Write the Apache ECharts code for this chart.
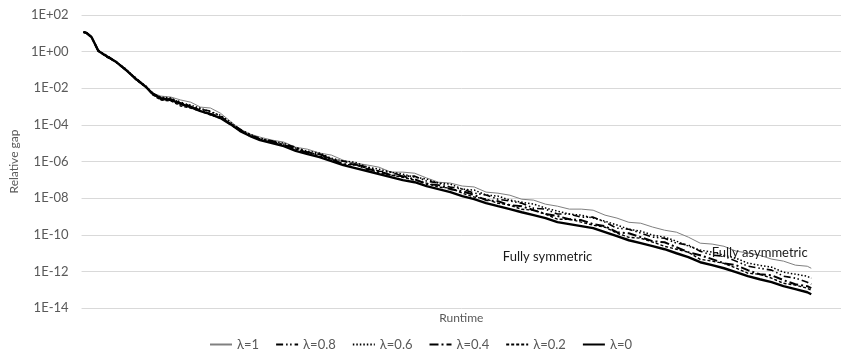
<!DOCTYPE html>
<html>
<head>
<meta charset="utf-8">
<script src="https://cdn.jsdelivr.net/npm/echarts@6/dist/echarts.min.js"></script>
<style>html,body{margin:0;padding:0;background:#fff}#c{width:841px;height:362px}</style>
</head>
<body>
<div id="c"></div>
<script>
// Runtime (arbitrary units)
const runtime = [2,5,10,13,17,25,35,45,55,65,72,80,90,100,110,120,130,140,150,160,170,180,192,204,216,228,240,252,264,276,288,300,312,324,336,348,360,372,384,396,408,420,432,444,456,468,480,492,504,516,528,540,552,564,576,588,600,612,624,636,648,660,672,684,696,708,720,732,736];

// log10(relative gap) per series
const lam1 = [1.07,1.02,0.80,0.52,0.03,-0.29,-0.52,-1.01,-1.50,-1.93,-2.27,-2.43,-2.48,-2.64,-2.76,-3.03,-3.08,-3.36,-3.80,-4.23,-4.50,-4.67,-4.83,-4.94,-5.22,-5.33,-5.54,-5.65,-5.93,-6.09,-6.19,-6.31,-6.58,-6.58,-6.64,-6.90,-7.13,-7.18,-7.34,-7.39,-7.67,-7.73,-7.84,-8.06,-8.11,-8.33,-8.44,-8.60,-8.60,-8.66,-8.93,-9.09,-9.32,-9.37,-9.58,-9.75,-9.86,-10.13,-10.46,-10.51,-10.63,-10.89,-11.00,-11.12,-11.33,-11.44,-11.66,-11.72,-11.83];
const lam08 = [1.07,1.02,0.80,0.47,0.03,-0.19,-0.57,-1.01,-1.45,-1.93,-2.27,-2.54,-2.59,-2.75,-2.98,-3.14,-3.25,-3.52,-3.91,-4.23,-4.56,-4.72,-4.94,-5.05,-5.22,-5.49,-5.60,-5.87,-5.98,-6.15,-6.30,-6.53,-6.58,-6.80,-6.80,-7.07,-7.18,-7.40,-7.51,-7.72,-7.83,-8.06,-8.16,-8.28,-8.55,-8.60,-8.87,-8.87,-9.04,-9.04,-9.31,-9.64,-9.70,-9.91,-10.13,-10.19,-10.46,-10.56,-10.90,-11.11,-11.17,-11.44,-11.71,-11.83,-11.93,-12.26,-12.37,-12.59,-12.70];
const lam06 = [1.07,1.02,0.80,0.47,0.08,-0.24,-0.57,-0.96,-1.50,-1.88,-2.32,-2.49,-2.53,-2.81,-2.92,-3.09,-3.30,-3.47,-3.85,-4.29,-4.50,-4.78,-4.88,-5.00,-5.27,-5.44,-5.54,-5.82,-5.98,-6.04,-6.30,-6.42,-6.58,-6.69,-6.86,-6.96,-7.18,-7.23,-7.51,-7.56,-7.83,-7.89,-8.11,-8.22,-8.33,-8.54,-8.71,-8.87,-8.93,-9.09,-9.26,-9.47,-9.70,-9.80,-10.02,-10.13,-10.35,-10.62,-10.84,-10.95,-11.12,-11.28,-11.55,-11.67,-11.77,-12.05,-12.15,-12.27,-12.38];
const lam04 = [1.07,1.02,0.80,0.47,0.03,-0.24,-0.57,-1.01,-1.50,-1.93,-2.32,-2.59,-2.64,-2.81,-3.03,-3.20,-3.41,-3.58,-3.96,-4.29,-4.61,-4.78,-4.88,-5.11,-5.27,-5.55,-5.60,-5.87,-6.15,-6.15,-6.41,-6.53,-6.74,-6.80,-6.97,-7.23,-7.29,-7.51,-7.62,-7.83,-8.11,-8.17,-8.38,-8.44,-8.66,-8.87,-8.98,-9.15,-9.20,-9.42,-9.53,-9.86,-9.92,-10.13,-10.35,-10.41,-10.68,-10.95,-11.12,-11.33,-11.56,-11.66,-11.93,-12.16,-12.21,-12.48,-12.70,-12.81,-12.92];
const lam02 = [1.07,1.02,0.80,0.47,0.03,-0.29,-0.57,-1.01,-1.55,-1.93,-2.37,-2.65,-2.69,-2.97,-3.08,-3.25,-3.46,-3.63,-3.91,-4.34,-4.56,-4.83,-4.94,-5.16,-5.33,-5.49,-5.71,-5.87,-6.15,-6.20,-6.36,-6.64,-6.74,-6.86,-7.02,-7.18,-7.40,-7.45,-7.73,-7.94,-8.05,-8.28,-8.38,-8.61,-8.66,-8.87,-9.15,-9.15,-9.31,-9.48,-9.59,-9.91,-10.14,-10.19,-10.40,-10.63,-10.79,-10.95,-11.34,-11.44,-11.56,-11.82,-12.10,-12.16,-12.37,-12.65,-12.75,-12.92,-13.03];
const lam0 = [1.07,1.02,0.80,0.47,0.03,-0.24,-0.57,-1.01,-1.50,-1.93,-2.32,-2.54,-2.64,-2.86,-3.03,-3.25,-3.41,-3.63,-3.96,-4.34,-4.61,-4.83,-4.99,-5.16,-5.42,-5.60,-5.76,-5.98,-6.20,-6.36,-6.52,-6.69,-6.85,-7.02,-7.13,-7.34,-7.51,-7.67,-7.89,-8.05,-8.27,-8.44,-8.60,-8.77,-8.93,-9.09,-9.31,-9.42,-9.53,-9.64,-9.86,-10.08,-10.30,-10.46,-10.62,-10.79,-11.01,-11.22,-11.50,-11.66,-11.83,-12.04,-12.26,-12.43,-12.59,-12.81,-12.97,-13.14,-13.25];

const seriesNames = ['λ=1','λ=0.8','λ=0.6','λ=0.4','λ=0.2','λ=0'];
const yTicks = ['1E-14','1E-12','1E-10','1E-08','1E-06','1E-04','1E-02','1E+00','1E+02'];
const annotations = [
  {text:'Fully symmetric', x:470, y:-11.22},
  {text:'Fully asymmetric', x:684, y:-11.0}
];

const values = [lam1, lam08, lam06, lam04, lam02, lam0];
const styles = [
  {color:'#808080', width:1, type:'solid'},
  {color:'#000', width:1.6, type:[7,3,1.5,2.5,1.5,3]},
  {color:'#000', width:1.5, type:[1.5,2]},
  {color:'#000', width:2, type:[9,3,2,3]},
  {color:'#000', width:1.4, type:[3,2]},
  {color:'#000', width:2.4, type:'solid'}
];

const FONT = 'Lato, "Open Sans", sans-serif';
const chart = echarts.init(document.getElementById('c'), null, {renderer:'canvas'});
const series = seriesNames.map((n, i) => {
  const s = {
    name: n, type: 'line', symbol: 'none', animation: false,
    data: runtime.map((t, k) => [t, values[i][k]]),
    lineStyle: {color: styles[i].color, width: styles[i].width, type: styles[i].type},
    itemStyle: {color: styles[i].color},
    z: 2 + (i === 5 ? 1 : 0)
  };
  if (i === 5) {
    s.markPoint = {
      symbol: 'circle', symbolSize: 0, silent: true, animation: false,
      label: {show: true, position: 'inside', color: '#1a1a1a', fontFamily: FONT, fontSize: 13,
              formatter: p => p.name},
      data: annotations.map(a => ({name: a.text, coord: [a.x, a.y]}))
    };
  }
  return s;
});

chart.setOption({
  animation: false,
  backgroundColor: '#fff',
  grid: {left: 75, right: 0, top: 15, bottom: 54},
  legend: {
    bottom: 6, left: 'center', itemWidth: 22, itemHeight: 10, itemGap: 16,
    itemStyle: {opacity: 0},
    textStyle: {color: '#595959', fontFamily: FONT, fontSize: 13},
    data: seriesNames
  },
  xAxis: {
    type: 'value', min: 0, max: 766,
    name: 'Runtime', nameLocation: 'middle', nameGap: 4,
    nameTextStyle: {color: '#595959', fontFamily: FONT, fontSize: 12, verticalAlign: 'top'},
    axisLine: {show: false}, axisTick: {show: false}, axisLabel: {show: false}, splitLine: {show: false}
  },
  yAxis: {
    type: 'value', min: -14, max: 2, interval: 2,
    name: 'Relative gap', nameLocation: 'middle', nameGap: 58, nameRotate: 90,
    nameTextStyle: {color: '#595959', fontFamily: FONT, fontSize: 12},
    axisLine: {show: false}, axisTick: {show: false},
    axisLabel: {color: '#595959', fontFamily: FONT, fontSize: 13, margin: 13,
      formatter: v => yTicks[Math.round((v + 14) / 2)]},
    splitLine: {lineStyle: {color: '#d9d9d9', width: 1}}
  },
  series: series
});
</script>
</body>
</html>
